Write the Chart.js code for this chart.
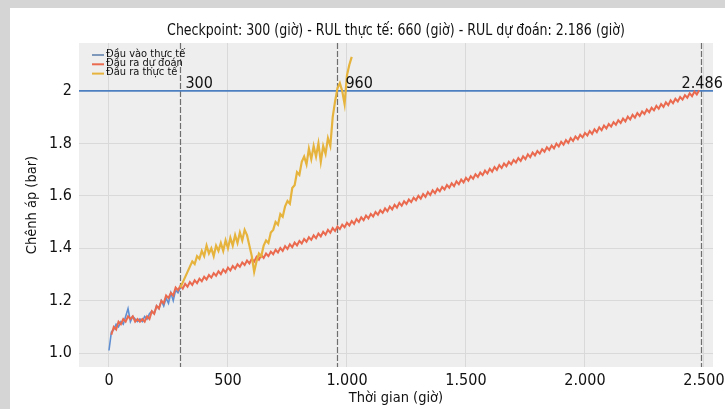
<!DOCTYPE html>
<html>
<head>
<meta charset="utf-8">
<script src="https://cdn.jsdelivr.net/npm/chart.js@4.4.1/dist/chart.umd.min.js"></script>
<style>
  html, body { margin: 0; padding: 0; background: #fff; }
  #khung { position: relative; width: 725px; height: 409px; background: #fff; overflow: hidden; }
  #khung .vien-tren { position: absolute; left: 0; top: 0; width: 725px; height: 8px; background: #d5d5d5; }
  #khung .vien-trai { position: absolute; left: 0; top: 0; width: 10px; height: 409px; background: #d5d5d5; }
  canvas { position: absolute; left: 0; top: 0; }
</style>
</head>
<body>
<div id="khung">
  <div class="vien-tren"></div>
  <div class="vien-trai"></div>
  <canvas id="bieuDo" width="725" height="409"></canvas>
</div>
<script>
// Khoảng thời gian (giờ) giữa hai mẫu liên tiếp của mỗi chuỗi
const buocThoiGian = 10;

// Đầu vào thực tế: 0 → 300 giờ
const dauVaoBatDau = 0;
const dauVaoThucTe = [
  1.01, 1.08, 1.09, 1.11, 1.10, 1.12, 1.11, 1.14, 1.17, 1.12,
  1.14, 1.13, 1.12, 1.13, 1.12, 1.14, 1.13, 1.15, 1.16, 1.15,
  1.18, 1.17, 1.20, 1.18, 1.21, 1.19, 1.23, 1.20, 1.24, 1.23,
  1.25
];

// Đầu ra dự đoán: 10 → 2.480 giờ
const duDoanBatDau = 10;
const dauRaDuDoan = [
  1.07, 1.10, 1.09, 1.12, 1.11, 1.13, 1.12, 1.14, 1.13, 1.14,
  1.12, 1.13, 1.12, 1.13, 1.12, 1.14, 1.13, 1.16, 1.15, 1.18,
  1.17, 1.20, 1.19, 1.22, 1.21, 1.23, 1.22, 1.25, 1.24, 1.257,
  1.246, 1.264, 1.253, 1.271, 1.260, 1.278, 1.267, 1.284, 1.274, 1.291,
  1.281, 1.298, 1.288, 1.305, 1.295, 1.312, 1.301, 1.319, 1.308, 1.326,
  1.315, 1.332, 1.322, 1.339, 1.329, 1.346, 1.336, 1.353, 1.342, 1.360,
  1.349, 1.367, 1.356, 1.374, 1.363, 1.380, 1.370, 1.387, 1.377, 1.394,
  1.384, 1.401, 1.390, 1.408, 1.397, 1.415, 1.404, 1.422, 1.411, 1.428,
  1.418, 1.435, 1.425, 1.442, 1.432, 1.449, 1.438, 1.456, 1.445, 1.463,
  1.452, 1.470, 1.459, 1.477, 1.466, 1.483, 1.473, 1.490, 1.480, 1.497,
  1.487, 1.504, 1.493, 1.511, 1.500, 1.518, 1.507, 1.525, 1.514, 1.531,
  1.521, 1.538, 1.528, 1.545, 1.535, 1.552, 1.541, 1.559, 1.548, 1.566,
  1.555, 1.573, 1.562, 1.579, 1.569, 1.586, 1.576, 1.593, 1.583, 1.600,
  1.589, 1.607, 1.596, 1.614, 1.603, 1.621, 1.610, 1.627, 1.617, 1.634,
  1.624, 1.641, 1.631, 1.648, 1.637, 1.655, 1.644, 1.662, 1.651, 1.669,
  1.658, 1.675, 1.665, 1.682, 1.672, 1.689, 1.679, 1.696, 1.685, 1.703,
  1.692, 1.710, 1.699, 1.717, 1.706, 1.723, 1.713, 1.730, 1.720, 1.737,
  1.727, 1.744, 1.733, 1.751, 1.740, 1.758, 1.747, 1.765, 1.754, 1.771,
  1.761, 1.778, 1.768, 1.785, 1.775, 1.792, 1.781, 1.799, 1.788, 1.806,
  1.795, 1.813, 1.802, 1.820, 1.809, 1.826, 1.816, 1.833, 1.823, 1.840,
  1.830, 1.847, 1.836, 1.854, 1.843, 1.861, 1.850, 1.868, 1.857, 1.874,
  1.864, 1.881, 1.871, 1.888, 1.878, 1.895, 1.884, 1.902, 1.891, 1.909,
  1.898, 1.916, 1.905, 1.922, 1.912, 1.929, 1.919, 1.936, 1.926, 1.943,
  1.932, 1.950, 1.939, 1.957, 1.946, 1.964, 1.953, 1.970, 1.960, 1.977,
  1.967, 1.984, 1.974, 1.991, 1.980, 1.998, 1.987, 2.003
];

// Đầu ra thực tế: 300 → 1.020 giờ
const thucTeBatDau = 300;
const dauRaThucTe = [
  1.25, 1.27, 1.29, 1.31, 1.33, 1.35, 1.34, 1.37, 1.36, 1.39,
  1.37, 1.41, 1.38, 1.40, 1.37, 1.41, 1.39, 1.42, 1.39, 1.43,
  1.40, 1.44, 1.41, 1.45, 1.42, 1.46, 1.43, 1.47, 1.45, 1.41,
  1.37, 1.31, 1.35, 1.38, 1.37, 1.41, 1.43, 1.42, 1.46, 1.47,
  1.50, 1.49, 1.53, 1.52, 1.56, 1.58, 1.57, 1.63, 1.64, 1.69,
  1.68, 1.73, 1.75, 1.72, 1.78, 1.74, 1.79, 1.75, 1.80, 1.73,
  1.79, 1.76, 1.82, 1.79, 1.90, 1.96, 2.01, 2.03, 2.00, 1.95,
  2.06, 2.10, 2.13
];

// Ngưỡng chênh áp và các mốc thời gian
const nguongChenhAp = 2;
const mocThoiGian = [300, 960, 2486];
const nhanMoc = ['300', '960', '2.486'];

// Vạch chia trục
const xTicks = [0, 500, 1000, 1500, 2000, 2500];
const xTickLabels = ['0', '500', '1.000', '1.500', '2.000', '2.500'];
const yTicks = [1.0, 1.2, 1.4, 1.6, 1.8, 2];
const yTickLabels = ['1.0', '1.2', '1.4', '1.6', '1.8', '2'];

const tieuDe = 'Checkpoint: 300 (giờ) - RUL thực tế: 660 (giờ) - RUL dự đoán: 2.186 (giờ)';
const nhanTrucX = 'Thời gian (giờ)';
const nhanTrucY = 'Chênh áp (bar)';

const FONT = "'Liberation Sans Narrow', 'DejaVu Sans Condensed', 'Arial Narrow', sans-serif";
const MAU_XANH = '#4c7fc0';
const MAU_DO = '#ea6a4f';
const MAU_VANG = '#e6b43c';

function thanhDiem(batDau, giaTri) {
  return giaTri.map((v, i) => ({ x: batDau + i * buocThoiGian, y: v }));
}

// Nền xám của vùng vẽ
const nenVungVe = {
  id: 'nenVungVe',
  beforeDraw(chart) {
    const { ctx, chartArea: a } = chart;
    ctx.save();
    ctx.fillStyle = '#eeeeef';
    ctx.fillRect(a.left, a.top, a.right - a.left, a.bottom - a.top);
    ctx.restore();
  }
};

// Đường ngưỡng và các vạch mốc
const duongMoc = {
  id: 'duongMoc',
  beforeDatasetsDraw(chart) {
    const { ctx, chartArea: a, scales } = chart;
    ctx.save();
    ctx.strokeStyle = '#6e6e6e';
    ctx.lineWidth = 1.2;
    ctx.setLineDash([6, 2]);
    mocThoiGian.forEach(m => {
      const x = Math.round(scales.x.getPixelForValue(m)) + 0.5;
      ctx.beginPath(); ctx.moveTo(x, a.top); ctx.lineTo(x, a.bottom); ctx.stroke();
    });
    ctx.setLineDash([]);
    const y = scales.y.getPixelForValue(nguongChenhAp);
    ctx.strokeStyle = MAU_XANH;
    ctx.lineWidth = 1.8;
    ctx.beginPath(); ctx.moveTo(a.left, y); ctx.lineTo(a.right, y); ctx.stroke();
    ctx.restore();
  },
  afterDatasetsDraw(chart) {
    const { ctx, scales } = chart;
    const lech = [5, 8, -19];
    ctx.save();
    ctx.font = '16px ' + FONT;
    ctx.fillStyle = '#111';
    ctx.textAlign = 'left';
    ctx.textBaseline = 'alphabetic';
    const y = scales.y.getPixelForValue(nguongChenhAp) - 3;
    mocThoiGian.forEach((m, i) => {
      ctx.fillText(nhanMoc[i], scales.x.getPixelForValue(m) + lech[i], y);
    });
    ctx.restore();
  }
};

// Chú thích ở góc trên bên trái vùng vẽ
const chuThich = {
  id: 'chuThich',
  afterDraw(chart) {
    const { ctx, chartArea: a } = chart;
    ctx.save();
    ctx.font = '11px ' + FONT;
    ctx.textBaseline = 'middle';
    chart.data.datasets.forEach((ds, i) => {
      const y = a.top + 11 + i * 9.3;
      const x = a.left + 13;
      ctx.strokeStyle = ds.mauChuThich;
      ctx.lineWidth = 2;
      ctx.beginPath(); ctx.moveTo(x, y + 1); ctx.lineTo(x + 12, y + 1); ctx.stroke();
      ctx.fillStyle = '#111';
      ctx.fillText(ds.label, x + 14, y);
    });
    ctx.restore();
  }
};

// Tiêu đề căn giữa trên vùng vẽ, chữ hẹp và cao
const tieuDeBieuDo = {
  id: 'tieuDeBieuDo',
  afterDraw(chart) {
    const { ctx, chartArea: a } = chart;
    const hep = 0.86;
    ctx.save();
    ctx.font = '16.3px ' + FONT;
    ctx.fillStyle = '#111';
    ctx.textAlign = 'center';
    ctx.textBaseline = 'middle';
    ctx.translate((a.left + a.right) / 2, 31);
    ctx.scale(hep, 1);
    ctx.fillText(tieuDe, 0, 0);
    ctx.restore();
  }
};

new Chart(document.getElementById('bieuDo'), {
  type: 'line',
  data: {
    datasets: [
      {
        label: 'Đầu vào thực tế',
        data: thanhDiem(dauVaoBatDau, dauVaoThucTe),
        borderColor: '#5f8fd2',
        mauChuThich: '#7d98bb',
        borderWidth: 1.6,
        order: 2
      },
      {
        label: 'Đầu ra dự đoán',
        data: thanhDiem(duDoanBatDau, dauRaDuDoan),
        borderColor: MAU_DO,
        mauChuThich: MAU_DO,
        borderWidth: 2,
        order: 1
      },
      {
        label: 'Đầu ra thực tế',
        data: thanhDiem(thucTeBatDau, dauRaThucTe),
        borderColor: MAU_VANG,
        mauChuThich: MAU_VANG,
        borderWidth: 2.2,
        order: 0
      }
    ]
  },
  options: {
    responsive: false,
    animation: false,
    devicePixelRatio: 1,
    layout: { padding: { left: 0, right: 12, top: 43, bottom: 0 } },
    elements: { point: { radius: 0 }, line: { tension: 0, fill: false } },
    plugins: { legend: { display: false }, tooltip: { enabled: false }, title: { display: false } },
    scales: {
      x: {
        type: 'linear',
        min: -126,
        max: 2538,
        afterBuildTicks: s => { s.ticks = xTicks.map(v => ({ value: v })); },
        afterFit: s => { s.height = 42; s.paddingLeft = 0; s.paddingRight = 0; },
        ticks: {
          callback: (v, i) => xTickLabels[i],
          font: { family: FONT, size: 16 },
          color: '#111',
          padding: 4,
          maxRotation: 0,
          autoSkip: false
        },
        grid: { color: '#d9d9d9', lineWidth: 1, drawTicks: false },
        border: { display: false },
        title: {
          display: true,
          text: nhanTrucX,
          font: { family: FONT, size: 14.5 },
          color: '#111',
          padding: { top: 0, bottom: 2 }
        }
      },
      y: {
        type: 'linear',
        min: 0.947,
        max: 2.183,
        afterBuildTicks: s => { s.ticks = yTicks.map(v => ({ value: v })); },
        afterFit: s => { s.width = 79; s.paddingTop = 0; s.paddingBottom = 0; },
        ticks: {
          callback: (v, i) => yTickLabels[i],
          font: { family: FONT, size: 16 },
          color: '#111',
          padding: 7
        },
        grid: { color: '#d9d9d9', lineWidth: 1, drawTicks: false },
        border: { display: false },
        title: {
          display: true,
          text: nhanTrucY,
          font: { family: FONT, size: 14.5 },
          color: '#111',
          padding: { top: 24, bottom: 0 }
        }
      }
    }
  },
  plugins: [nenVungVe, duongMoc, chuThich, tieuDeBieuDo]
});
</script>
</body>
</html>
